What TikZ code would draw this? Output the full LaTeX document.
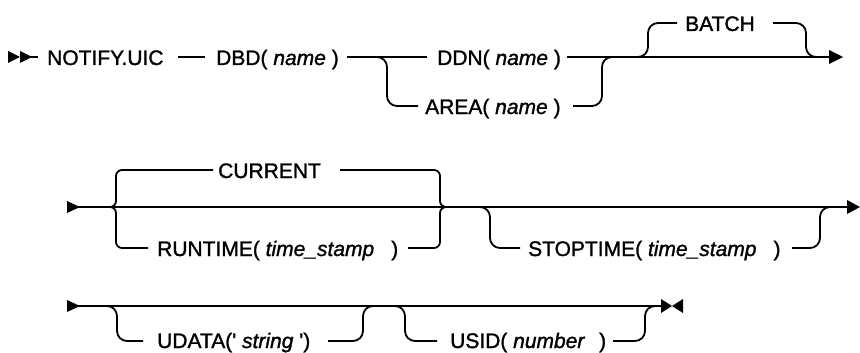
\documentclass[tikz,border=0pt]{standalone}
\usepackage{fontspec}
\setmainfont{Liberation Sans}
\newfontfamily\railfont{Liberation Sans}[FakeBold=1.3]
\begin{document}
\begin{tikzpicture}[x=1pt,y=-1pt,
  txt/.style={font=\railfont\fontsize{21}{25}\selectfont, inner sep=0pt, anchor=base west},
  rail/.style={line width=1.8pt, rounded corners=10pt},
  brace/.style={line width=1.8pt, rounded corners=6pt},
  tip/.style={fill=black, draw=none}]
\useasboundingbox (0,0) rectangle (860,353);
% ---------- row 1 ----------
\node[txt] (notify) at (47,65) {NOTIFY.UIC};
\node[txt] (dbd) at (216,65) {DBD( \textit{name} )};
\node[txt] (ddn) at (437,65) {DDN( \textit{name} )};
\node[txt] (area) at (425,114) {AREA( \textit{name} )};
\node[txt] (batch) at (685,31) {BATCH};
\fill[tip] (8,51) -- (20,57) -- (8,63) -- cycle;
\fill[tip] (20,51) -- (32,57) -- (20,63) -- cycle;
\draw[rail] (30,57) -- (38,57);
\draw[rail] (178,57) -- (205,57);
\draw[rail] (347,57) -- (427,57);
\draw[rail] (367,57) -- (387,57) -- (387,106) -- (418,106);
\draw[rail] (567,57) -- (829,57);
\draw[rail] (573,106) -- (602,106) -- (602,57) -- (622,57);
\draw[rail] (630,57) -- (648,57) -- (648,23) -- (677,23);
\draw[rail] (773,23) -- (806,23) -- (806,57) -- (825,57);
\fill[tip] (829,50) -- (843,57) -- (829,64) -- cycle;
% ---------- row 2 ----------
\node[txt] (current) at (218,178) {CURRENT};
\node[txt] (runtime) at (157,256) {RUNTIME( \textit{time\_stamp}\hspace{17pt})};
\node[txt] (stoptime) at (528,256) {STOPTIME( \textit{time\_stamp}\hspace{17pt})};
\fill[tip] (67,201) -- (80,207) -- (67,213) -- cycle;
\draw[rail] (78,207) -- (848,207);
\draw[brace] (100,207) -- (116,207) -- (116,170) -- (213,170);
\draw[brace] (100,207) -- (116,207) -- (116,248) -- (148,248);
\draw[brace] (340,170) -- (440,170) -- (440,207) -- (455,207);
\draw[brace] (408,248) -- (440,248) -- (440,207) -- (455,207);
\draw[rail] (472,207) -- (490,207) -- (490,248) -- (520,248);
\draw[rail] (792,248) -- (820,248) -- (820,207) -- (838,207);
\fill[tip] (847,200) -- (860,207) -- (847,214) -- cycle;
% ---------- row 3 ----------
\node[txt] (udata) at (157,348) {UDATA(' \textit{string} ')};
\node[txt] (usid) at (450,348) {USID( \textit{number}\hspace{14pt})};
\fill[tip] (67,300) -- (80,306) -- (67,312) -- cycle;
\draw[rail] (78,306) -- (662,306);
\draw[rail] (100,306) -- (117,306) -- (117,341) -- (143,341);
\draw[rail] (328,341) -- (363,341) -- (363,306) -- (380,306);
\draw[rail] (388,306) -- (405,306) -- (405,341) -- (437,341);
\draw[rail] (613,341) -- (645,341) -- (645,306) -- (660,306);
\fill[tip] (661,299) -- (672,306) -- (661,313) -- cycle;
\fill[tip] (683,299) -- (672,306) -- (683,313) -- cycle;
\end{tikzpicture}
\end{document}
